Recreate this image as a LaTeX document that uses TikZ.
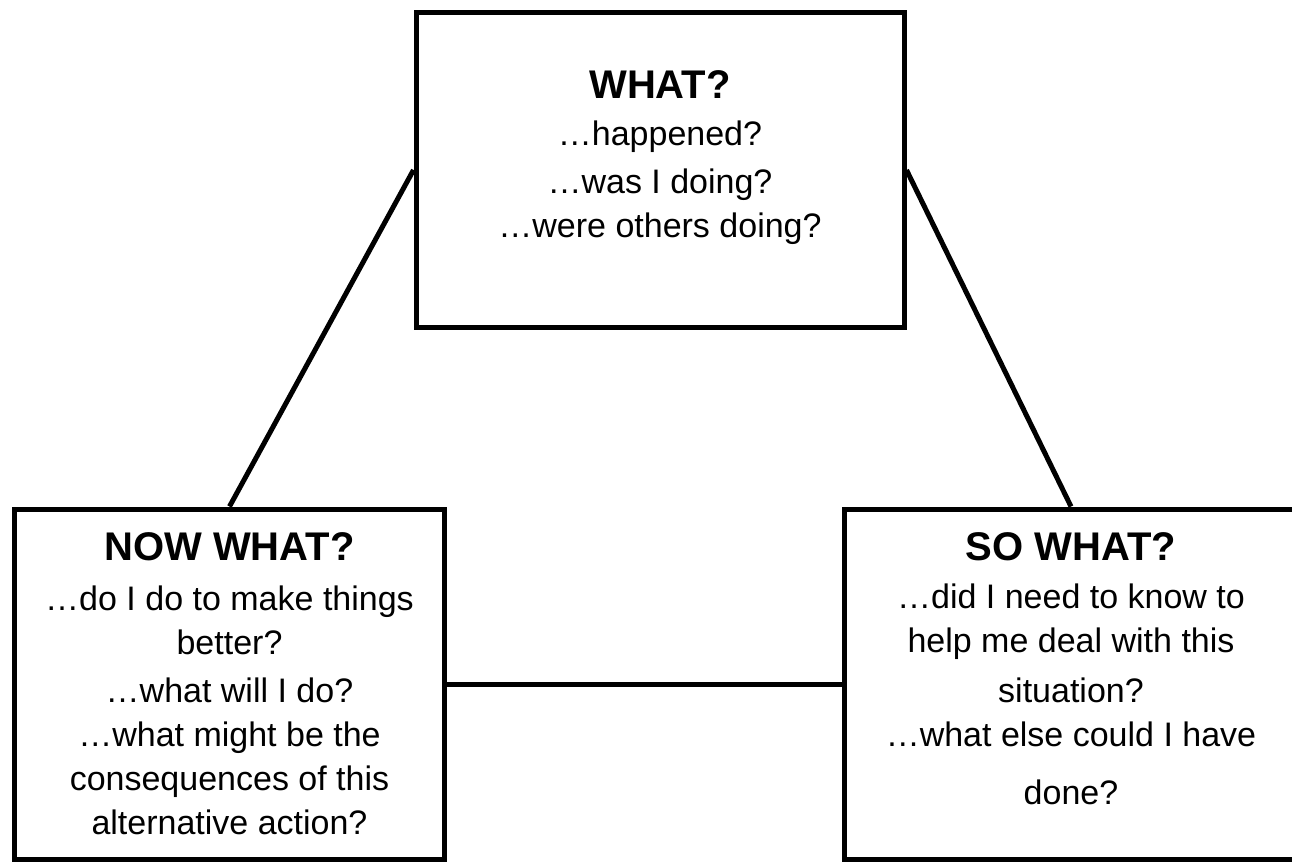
\documentclass[tikz,border=0pt]{standalone}
\usepackage{fontspec}
\setmainfont{Liberation Sans}
\usetikzlibrary{positioning}

\begin{document}
\begin{tikzpicture}[x=0.5pt, y=-0.5pt,
        box/.style = {draw, line width=2.5pt, inner sep=0pt},
        head/.style = {inner sep=0pt, font=\fontsize{20}{24}\selectfont\bfseries},
        body/.style = {inner sep=0pt, align=center, font=\fontsize{17}{22}\selectfont}]
            \useasboundingbox (0,0) rectangle (1292,862);

            \node[box, minimum width=244pt, minimum height=157.5pt] (what) at (660,170) {};
            \node[box, minimum width=215pt, minimum height=175pt] (nowwhat) at (229.5,684) {};
            \node[box, minimum width=227pt, minimum height=175pt] (sowhat) at (1071,684) {};

            \node[head, anchor=base] (what-t) at ([yshift=-44pt]what.north) {WHAT?};
            \node[body] (what-b) [below=11pt of what-t] {\dots happened?\\[2pt]\dots was I doing?\\\dots were others doing?};

            \node[head, anchor=base] (nowwhat-t) at ([yshift=-27pt]nowwhat.north) {NOW WHAT?};
            \node[body] (nowwhat-b) [below=12pt of nowwhat-t] {\dots do I do to make things\\better?\\[2pt]\dots what will I do?\\\dots what might be the\\consequences of this\\alternative action?};

            \node[head, anchor=base] (sowhat-t) at ([yshift=-27pt]sowhat.north) {SO WHAT?};
            \node[body] (sowhat-b) [below=11pt of sowhat-t] {\dots did I need to know to\\help me deal with this\\[3pt]situation?\\\dots what else could I have\\[7pt]done?};

            \path[line width=2.5pt] (what.west) edge (nowwhat.north);
            \path[line width=2.5pt] (what.east) edge (sowhat.north);
            \path[line width=2.5pt] (nowwhat.east) edge (sowhat.west);
        \end{tikzpicture}
\end{document}
